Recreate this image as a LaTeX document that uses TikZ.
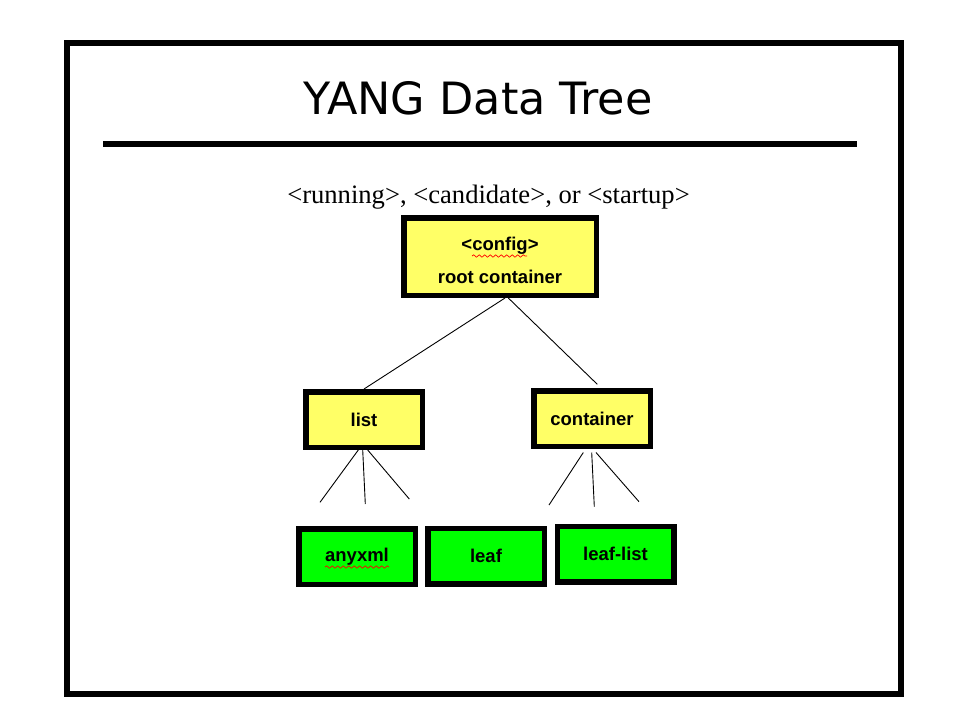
\documentclass[tikz,border=0pt]{standalone}
\usepackage{fontspec}
\setmainfont{Liberation Serif}
\setsansfont{Liberation Sans}
\newfontfamily\titlefont{DejaVu Sans}
\usetikzlibrary{decorations.pathmorphing}
\definecolor{yellowbox}{HTML}{FFFF66}
\definecolor{greenbox}{HTML}{00FF00}

\begin{document}
\begin{tikzpicture}[x=1pt,y=-1pt]
\tikzstyle{box}=[draw=black,line width=5.5pt,minimum width=116.5pt,minimum height=55.5pt,inner sep=0pt,font=\sffamily\bfseries\fontsize{18.5}{22}\selectfont]
\tikzstyle{ybox}=[box,fill=yellowbox]
\tikzstyle{gbox}=[box,fill=greenbox]
\tikzstyle{edge}=[line width=0.9pt]
\tikzstyle{spell}=[red,line width=0.7pt,decorate,decoration={snake,amplitude=1.2pt,segment length=5.5pt}]
\useasboundingbox (0,0) rectangle (960,720);
\draw[line width=6pt] (66.5,43) rectangle (901,693.5);
\node[font=\titlefont\fontsize{44.5}{52}\selectfont] (title) at (478,98) {YANG Data Tree};
\draw[line width=6pt] (103,144) -- (857,144);
\node[font=\fontsize{26.6}{30}\selectfont] (store) at (488.5,197) {<running>, <candidate>, or <startup>};
\node[ybox,minimum width=192.5pt,minimum height=77.5pt,align=center] (root) at (500,256.5) {\rule{0pt}{21.5pt}<config>\\[11pt]root container};
\foreach \name/\point/\txt in {
	list/{364,419.5}/list,
	cont/{592,418.5}/container}
	\node[ybox] (\name) at (\point) {\txt};
\foreach \name/\point/\txt in {
	anyxml/{357,556.5}/anyxml,
	leaf/{486,556}/leaf,
	leaflist/{615.5,554}/leaf-list}
	\node[gbox] (\name) at (\point) {\txt};
% free ends of the child lines
\coordinate (cT) at (597.3,384.3);
\coordinate (l1) at (320,502.3);
\coordinate (l2) at (365.3,504);
\coordinate (l3) at (409.3,499);
\coordinate (c1) at (549,505);
\coordinate (c2) at (594.3,506.7);
\coordinate (c3) at (639,501.7);
\draw[edge] ([xshift=5pt]root.south) -- (list.north);
\draw[edge] ([xshift=8.3pt]root.south) -- (cT);
\draw[edge] ([xshift=-5.7pt]list.south) -- (l1);
\draw[edge] ([xshift=-1.3pt]list.south) -- (l2);
\draw[edge] ([xshift=3.7pt]list.south) -- (l3);
\draw[edge] ([xshift=-8.7pt,yshift=-3.5pt]cont.south) -- (c1);
\draw[edge] ([xshift=-0.3pt,yshift=-3.5pt]cont.south) -- (c2);
\draw[edge] ([xshift=4pt,yshift=-3.5pt]cont.south) -- (c3);
% spell check marks
\draw[spell] (472,256) -- (527,256);
\draw[spell] (325,567) -- (389,567);
\end{tikzpicture}
\end{document}
